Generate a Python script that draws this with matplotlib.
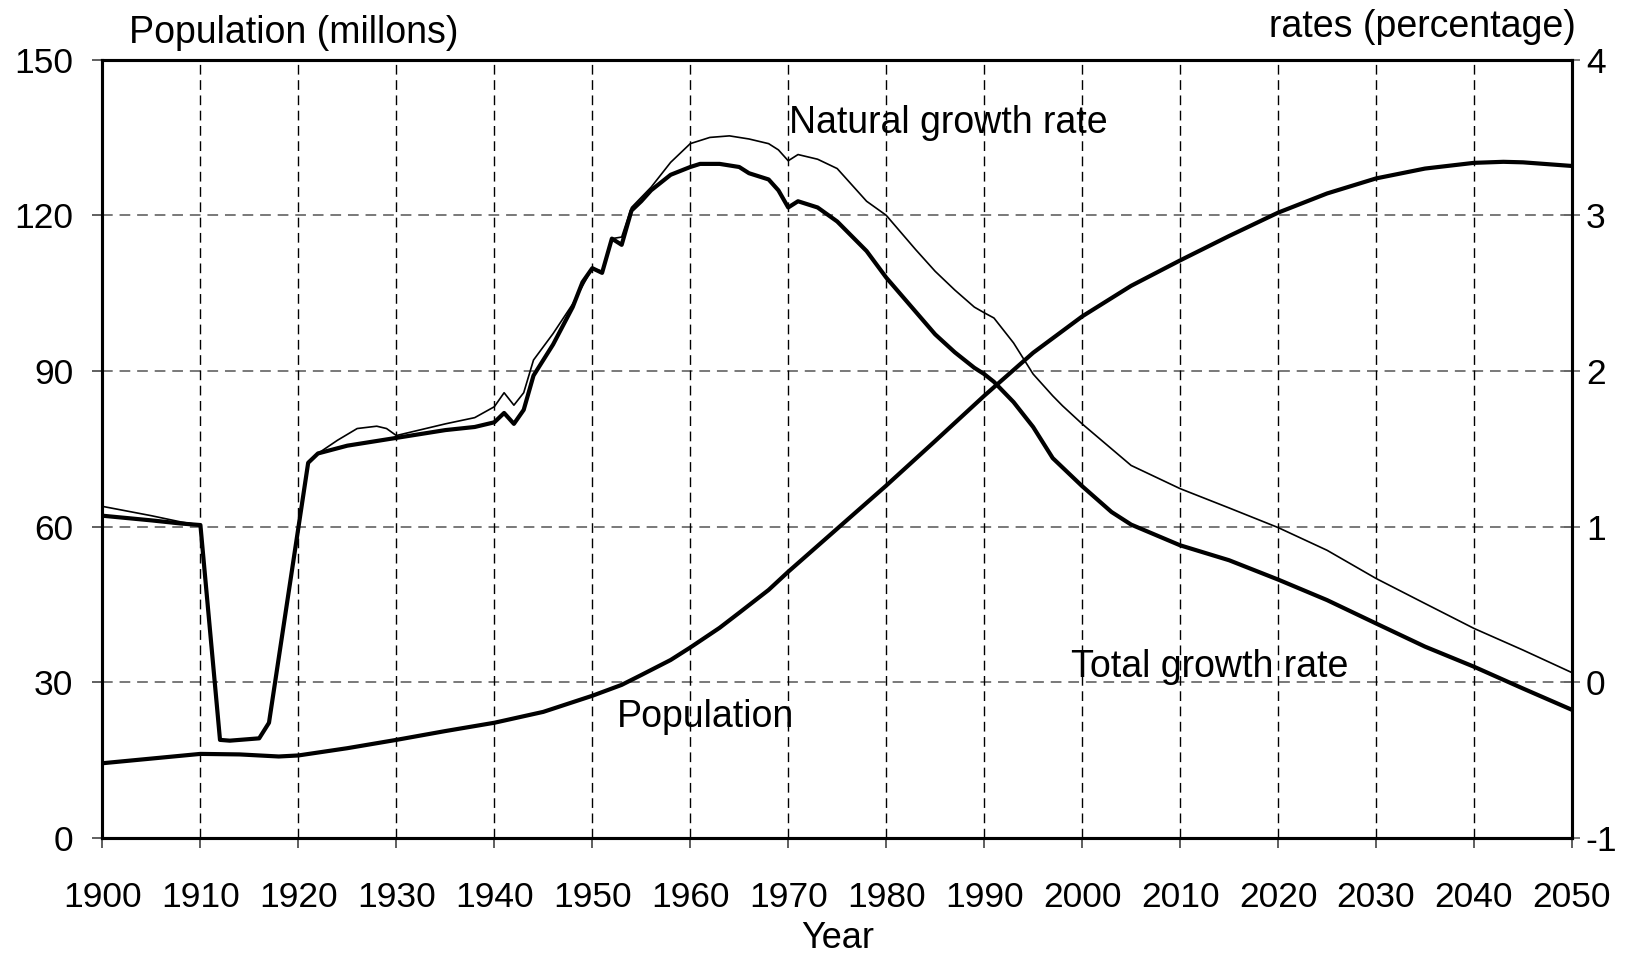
import matplotlib
matplotlib.use("Agg")
import matplotlib.pyplot as plt

plt.rcParams['font.family'] = ['Liberation Sans', 'DejaVu Sans']

# ---------------- data ----------------
pop_years = [1900, 1905, 1910, 1914, 1918, 1920, 1925, 1930, 1935, 1940, 1945,
             1950, 1953, 1955, 1958, 1960, 1963, 1965, 1968, 1970, 1975, 1980,
             1985, 1990, 1995, 2000, 2005, 2010, 2015, 2020, 2025, 2030, 2035,
             2040, 2043, 2045, 2050]
population = [14.4, 15.3, 16.2, 16.1, 15.7, 15.9, 17.3, 18.9, 20.6, 22.2, 24.3,
              27.4, 29.5, 31.4, 34.3, 36.7, 40.5, 43.4, 47.8, 51.3, 59.6, 67.9,
              76.5, 85.2, 93.5, 100.5, 106.4, 111.3, 116.0, 120.5, 124.2, 127.1, 129.0,
              130.1, 130.3, 130.2, 129.5]

tot_years = [1900, 1905, 1908, 1910, 1912, 1913, 1916, 1917, 1921, 1922, 1925,
             1930, 1935, 1938, 1940, 1941, 1942, 1943, 1944, 1946, 1948, 1949,
             1950, 1951, 1952, 1953, 1954, 1955, 1956, 1958, 1960, 1961, 1963,
             1965, 1966, 1968, 1969, 1970, 1971, 1973, 1975, 1978, 1980, 1985,
             1987, 1989, 1990, 1991, 1993, 1995, 1997, 1998, 2000, 2003, 2005,
             2010, 2015, 2020, 2025, 2030, 2035, 2040, 2045, 2050]
total_growth = [1.07, 1.04, 1.02, 1.01, -0.37, -0.375, -0.36, -0.26, 1.41, 1.47, 1.52,
                1.57, 1.62, 1.64, 1.67, 1.73, 1.66, 1.75, 1.97, 2.17, 2.41, 2.57,
                2.66, 2.63, 2.85, 2.81, 3.03, 3.09, 3.16, 3.26, 3.31, 3.33, 3.33,
                3.31, 3.27, 3.23, 3.16, 3.05, 3.09, 3.05, 2.96, 2.77, 2.60, 2.235,
                2.12, 2.02, 1.98, 1.93, 1.80, 1.64, 1.44, 1.38, 1.26, 1.094, 1.013,
                0.88, 0.784, 0.66, 0.528, 0.378, 0.229, 0.10, -0.04, -0.177]

nat_years = [1900, 1905, 1908, 1910, 1912, 1913, 1916, 1917, 1921, 1922, 1924,
             1926, 1928, 1929, 1930, 1935, 1938, 1940, 1941, 1942, 1943, 1944,
             1946, 1948, 1950, 1951, 1952, 1953, 1954, 1956, 1958, 1960, 1962,
             1964, 1966, 1968, 1969, 1970, 1971, 1973, 1975, 1978, 1980, 1983,
             1985, 1987, 1989, 1990, 1991, 1992, 1993, 1994, 1995, 1997, 1998,
             2000, 2005, 2010, 2015, 2020, 2025, 2030, 2035, 2040, 2045, 2050]
natural_growth = [1.13, 1.07, 1.03, 1.01, -0.37, -0.375, -0.36, -0.26, 1.41, 1.47, 1.555,
                  1.63, 1.645, 1.63, 1.585, 1.66, 1.70, 1.77, 1.86, 1.78, 1.86, 2.07,
                  2.24, 2.43, 2.66, 2.64, 2.85, 2.86, 3.05, 3.18, 3.34, 3.46, 3.50,
                  3.51, 3.49, 3.46, 3.42, 3.35, 3.39, 3.36, 3.30, 3.09, 3.0, 2.78,
                  2.64, 2.52, 2.41, 2.374, 2.34, 2.26, 2.18, 2.08, 1.98, 1.84, 1.776,
                  1.66, 1.393, 1.244, 1.12, 0.994, 0.848, 0.667, 0.506, 0.346, 0.207, 0.062]

x_ticks = list(range(1900, 2051, 10))
left_ticks = [0, 30, 60, 90, 120, 150]
right_ticks = [-1, 0, 1, 2, 3, 4]
right_labels = ['-1', '0', '1', '2', '3', '4']

# ---------------- figure ----------------
fig = plt.figure(figsize=(16.39, 9.58), dpi=100)
ax = fig.add_axes([0.0625, 0.1253, 0.8966, 0.8125])
ax2 = ax.twinx()

ax.set_xlim(1900, 2050)
ax.set_ylim(0, 150)
ax2.set_ylim(-1, 4)

# grid
for yv in left_ticks[1:-1]:
    ax.axhline(yv, color='#555555', lw=1.1, dashes=(7, 4.5), zorder=1)
for xv in x_ticks[1:-1]:
    ax.axvline(xv, color='black', lw=1.0, dashes=(7, 4), zorder=1)

ax.plot(pop_years, population, color='black', lw=3.0, solid_joinstyle='round', zorder=3)
ax2.plot(tot_years, total_growth, color='black', lw=3.0, solid_joinstyle='round', zorder=3)
ax2.plot(nat_years, natural_growth, color='black', lw=1.2, zorder=3)

ax.set_xticks(x_ticks)
ax.set_yticks(left_ticks)
ax2.set_yticks(right_ticks)
ax2.set_yticklabels(right_labels)

ax.tick_params(axis='x', direction='out', length=7, width=1.2, pad=24, labelsize=25.5, color='#444444')
ax.tick_params(axis='y', direction='out', length=7, width=1.2, pad=14, labelsize=25.5, color='#444444')
ax2.tick_params(axis='y', direction='inout', length=12, width=1.2, pad=4, labelsize=25.5, color='#666666')

for a in (ax, ax2):
    for s in a.spines.values():
        s.set_linewidth(2.2)
        s.set_color('black')

ax.set_xlabel('Year', fontsize=26, labelpad=5)

# annotations
ax.text(1970.1, 137.8, 'Natural growth rate', fontsize=27, va='center', ha='left')
ax.text(1998.9, 33.0, 'Total growth rate', fontsize=27, va='center', ha='left')
ax.text(1952.5, 23.3, 'Population', fontsize=27, va='center', ha='left')

fig.text(0.0787, 0.966, 'Population (millons)', fontsize=27, va='center', ha='left')
fig.text(0.9616, 0.9715, 'rates (percentage)', fontsize=27, va='center', ha='right')

fig.savefig('out.png', dpi=100)
